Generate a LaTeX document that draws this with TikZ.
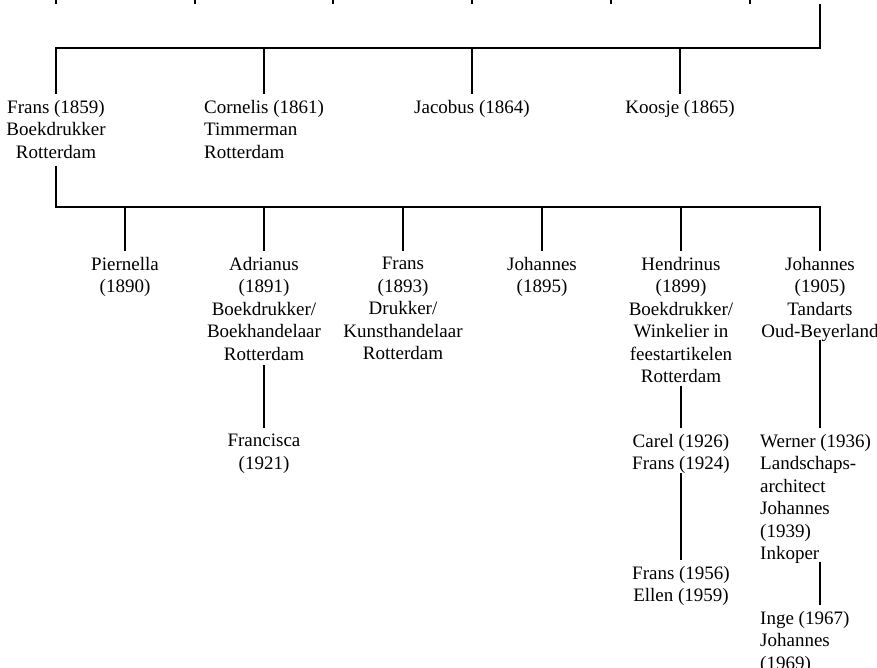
\documentclass[tikz,border=0pt]{standalone}
\usepackage{fontspec}
\setmainfont{Liberation Serif}
\usetikzlibrary{calc}
\begin{document}
\begin{tikzpicture}[x=1pt,y=-1pt,
  person/.style={anchor=north, inner sep=0pt, align=center, font=\fontsize{19}{22.5}\selectfont},
  personl/.style={person, align=left},
  personw/.style={person, anchor=north west, align=left},
  link/.style={line width=2pt},
  tochild/.style={link, shorten >=6pt}]
\useasboundingbox (0,0) rectangle (877,668);
% cut-off row above
\foreach \x in {56,195,333,472,611,750} \draw[link] (\x,-2) -- (\x,4);
\coordinate (top) at (820,4);
\coordinate (b1) at (820,48);
\coordinate (b2) at (820,207);
% generation 1
\node[person]  (f1) at (56,100)  {Frans (1859)\\Boekdrukker\\Rotterdam};
\node[personl] (c1) at (264,100) {Cornelis (1861)\\Timmerman\\Rotterdam};
\node[person]  (j1) at (472,100) {Jacobus (1864)};
\node[person]  (k1) at (680,100) {Koosje (1865)};
% generation 2
\node[person] (p2)  at (125,257) {Piernella\\(1890)};
\node[person] (a2)  at (264,257) {Adrianus\\(1891)\\Boekdrukker/\\Boekhandelaar\\Rotterdam};
\node[person] (f2)  at (403,257) {Frans\\(1893)\\Drukker/\\Kunsthandelaar\\Rotterdam};
\node[person] (j2)  at (542,257) {Johannes\\(1895)};
\node[person] (h2)  at (681,257) {Hendrinus\\(1899)\\Boekdrukker/\\Winkelier in\\feestartikelen\\Rotterdam};
\node[person] (jj2) at (820,257) {Johannes\\(1905)\\Tandarts\\Oud-Beyerland};
% generation 3
\node[person]  (fr3) at (264,434) {Francisca\\(1921)};
\node[person]  (c3)  at (681,434) {Carel (1926)\\Frans (1924)};
\node[personw] (w3)  at (760,434) {Werner (1936)\\Landschaps-\\architect\\Johannes\\(1939)\\Inkoper};
% generation 4
\node[person]  (f4) at (681,566) {Frans (1956)\\Ellen (1959)};
\node[personw] (i4) at (760,611) {Inge (1967)\\Johannes\\(1969)};
% connectors
\draw[tochild] (top) -- (b1) -- (f1.north |- b1) -- (f1.north);
\foreach \n in {c1,j1,k1} \draw[tochild] (\n.north |- b1) -- (\n.north);
\draw[tochild] ($(f1.north)+(0,66)$) -- (f1.north |- b2) -- (b2) -- (jj2.north);
\foreach \n in {p2,a2,f2,j2,h2} \draw[tochild] (\n.north |- b2) -- (\n.north);
\draw[tochild] ($(a2.north)+(0,108)$) -- (fr3.north);
\draw[tochild] ($(h2.north)+(0,129)$) -- (c3.north);
\draw[tochild] ($(jj2.north)+(0,83)$) -- (jj2.north |- w3.north);
\draw[tochild] ($(c3.north)+(0,39)$) -- (f4.north);
\draw[tochild] ($(w3.north -| jj2.north)+(0,128)$) -- (jj2.north |- i4.north);
\end{tikzpicture}
\end{document}
